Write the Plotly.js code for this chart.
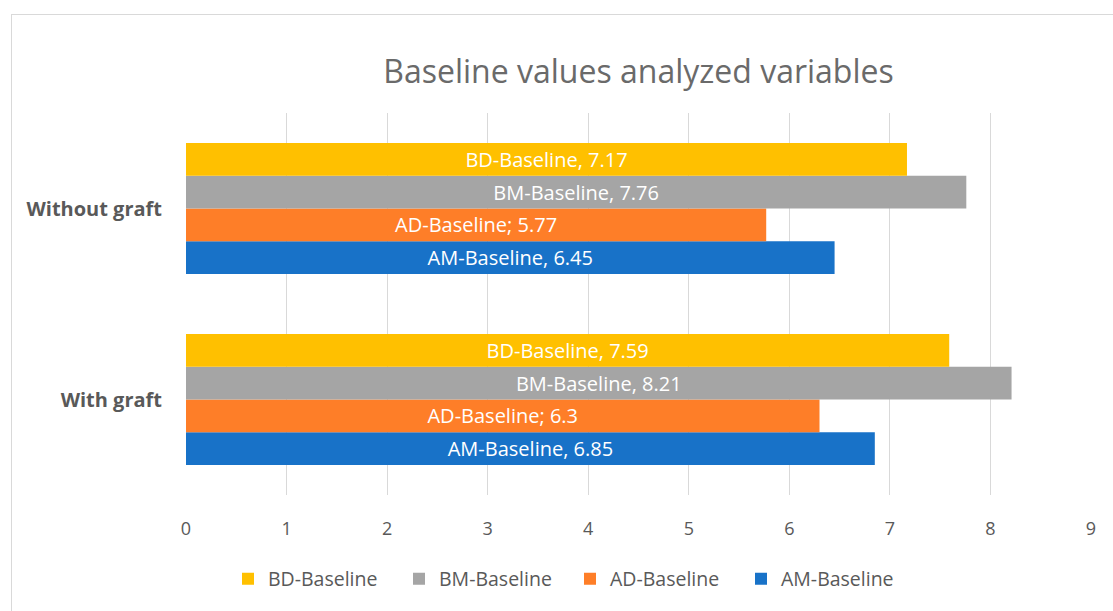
<!DOCTYPE html>
<html>
<head>
<meta charset="utf-8">
<script src="https://cdn.plot.ly/plotly-3.0.1.min.js"></script>
<style>
  html, body { margin: 0; padding: 0; background: #ffffff; overflow: hidden; }
  #chart { position: absolute; left: 0; top: 0; width: 1113px; height: 611px; }
  #frame { position: absolute; left: 11px; top: 14px; width: 1200px; height: 700px;
           border-left: 1px solid #d9d9d9; border-top: 1px solid #d9d9d9; pointer-events: none; }
</style>
</head>
<body>
<div id="chart"></div>
<div id="frame"></div>
<script>
// Categories (bottom to top)
const categories = ["With graft", "Without graft"];

// Series values, in the same order as categories
const amBaseline = [6.85, 6.45];
const adBaseline = [6.3, 5.77];
const bmBaseline = [8.21, 7.76];
const bdBaseline = [7.59, 7.17];

// Series names and label separators
const seriesNames = ["AM-Baseline", "AD-Baseline", "BM-Baseline", "BD-Baseline"];
const labelSeparators = [", ", "; ", ", ", ", "];
const seriesColors = ["#1872C8", "#FE7E28", "#A5A5A5", "#FFC000"];

const xTicks = [0, 1, 2, 3, 4, 5, 6, 7, 8, 9];

const seriesValues = [amBaseline, adBaseline, bmBaseline, bdBaseline];

const FONT = "'Open Sans', 'Liberation Sans', sans-serif";

const traces = seriesValues.map((vals, i) => ({
  type: 'bar',
  orientation: 'h',
  name: seriesNames[i],
  y: categories,
  x: vals,
  marker: { color: seriesColors[i], line: { width: 0 } },
  texttemplate: seriesNames[i] + labelSeparators[i] + '%{x}',
  textposition: 'inside',
  insidetextanchor: 'middle',
  textangle: 0,
  constraintext: 'none',
  insidetextfont: { family: FONT, size: 20, color: '#ffffff' },
  hoverinfo: 'skip'
}));

const layout = {
  width: 1113,
  height: 611,
  margin: { l: 186, r: 22, t: 113, b: 116 },
  paper_bgcolor: 'rgba(0,0,0,0)',
  plot_bgcolor: 'rgba(0,0,0,0)',
  barmode: 'group',
  bargap: 0.314,
  bargroupgap: 0,
  font: { family: FONT, color: '#595959' },
  title: {
    text: 'Baseline values analyzed variables',
    font: { family: FONT, size: 32, color: '#6a6a6a' },
    x: 0.5, xref: 'paper', xanchor: 'center',
    y: 1 - 72 / 611, yref: 'container', yanchor: 'middle'
  },
  xaxis: {
    range: [0, 9],
    tickvals: xTicks,
    ticktext: xTicks.map(String),
    showgrid: true,
    gridcolor: '#d9d9d9',
    gridwidth: 1,
    zeroline: false,
    showline: false,
    ticks: 'outside',
    ticklen: 17,
    tickcolor: 'rgba(0,0,0,0)',
    tickfont: { family: FONT, size: 18, color: '#595959' },
    fixedrange: true
  },
  yaxis: {
    type: 'category',
    categoryorder: 'array',
    categoryarray: categories,
    showgrid: false,
    zeroline: false,
    showline: false,
    ticks: 'outside',
    ticklen: 19,
    tickcolor: 'rgba(0,0,0,0)',
    tickfont: { family: FONT, size: 20, color: '#595959', weight: 'bold' },
    fixedrange: true
  },
  showlegend: true,
  legend: {
    orientation: 'h',
    traceorder: 'reversed',
    x: (228 - 186) / 905,
    xanchor: 'left',
    y: (495 - 579) / 382,
    yanchor: 'middle',
    font: { family: FONT, size: 19.5, color: '#595959' },
    entrywidth: 126,
    entrywidthmode: 'pixels',
    itemsizing: 'constant',
    bgcolor: 'rgba(0,0,0,0)'
  }
};

Plotly.newPlot('chart', traces, layout, { displayModeBar: false, staticPlot: true });
</script>
</body>
</html>
